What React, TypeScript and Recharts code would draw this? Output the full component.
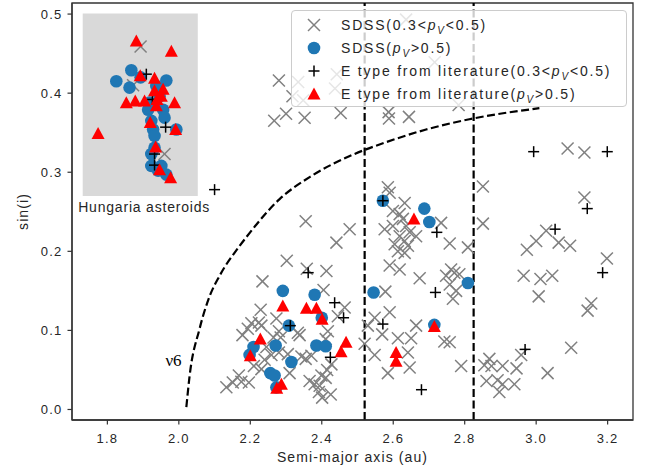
import React from "react";
import {
  ReferenceArea,
  ReferenceDot,
  ReferenceLine,
  Scatter,
  ScatterChart,
  XAxis,
  YAxis,
} from "recharts";

type Pt = [number, number];

const xTicks = [1.8, 2.0, 2.2, 2.4, 2.6, 2.8, 3.0, 3.2];
const yTicks = [0, 0.1, 0.2, 0.3, 0.4, 0.5];
const xDomain: [number, number] = [1.701, 3.271];
const yDomain: [number, number] = [-0.0133, 0.514];

// SDSS, 0.3 < pV < 0.5  (semi-major axis, sin i)
const sdssMid: Pt[] = [
  [1.893, 0.459], [1.872, 0.41], [1.96, 0.323],
  [2.28, 0.416], [2.334, 0.414], [2.442, 0.424], [2.318, 0.396], [2.348, 0.391],
  [2.437, 0.406], [2.3, 0.374], [2.267, 0.365], [2.352, 0.369], [2.453, 0.375],
  [2.587, 0.376], [2.588, 0.368], [2.644, 0.37], [2.716, 0.439], [2.783, 0.385],
  [2.636, 0.493], [2.355, 0.238], [2.478, 0.228],
  [2.441, 0.211], [2.302, 0.188], [2.358, 0.178], [2.413, 0.175], [2.234, 0.162],
  [2.405, 0.151], [2.229, 0.126], [2.224, 0.11], [2.203, 0.109], [2.178, 0.094],
  [2.193, 0.102], [2.231, 0.106], [2.273, 0.115], [2.28, 0.099], [2.265, 0.091],
  [2.333, 0.097], [2.338, 0.094], [2.285, 0.091], [2.417, 0.099], [2.411, 0.089],
  [2.445, 0.118], [2.464, 0.129], [2.245, 0.079], [2.259, 0.069], [2.24, 0.063],
  [2.21, 0.055], [2.28, 0.072], [2.305, 0.07], [2.343, 0.067], [2.355, 0.064],
  [2.371, 0.068], [2.31, 0.046], [2.415, 0.05], [2.427, 0.057], [2.399, 0.043],
  [2.411, 0.04], [2.366, 0.036], [2.38, 0.032], [2.394, 0.03], [2.392, 0.022],
  [2.401, 0.015], [2.425, 0.019], [2.231, 0.051], [2.168, 0.043], [2.175, 0.035],
  [2.151, 0.034], [2.133, 0.028], [2.196, 0.034], [2.52, 0.083], [2.529, 0.106],
  [2.548, 0.116], [2.569, 0.095], [2.548, 0.069], [2.585, 0.046],
  [2.585, 0.281], [2.59, 0.274], [2.632, 0.261], [2.599, 0.251], [2.618, 0.247],
  [2.627, 0.241], [2.576, 0.228], [2.599, 0.232], [2.636, 0.232], [2.646, 0.224],
  [2.664, 0.219], [2.618, 0.219], [2.604, 0.209], [2.632, 0.213], [2.641, 0.207],
  [2.613, 0.2], [2.632, 0.198], [2.734, 0.236], [2.758, 0.21], [2.809, 0.205],
  [2.59, 0.182], [2.618, 0.177], [2.674, 0.166], [2.762, 0.177], [2.771, 0.173],
  [2.748, 0.169], [2.785, 0.171], [2.758, 0.158], [2.776, 0.15], [2.767, 0.14],
  [2.578, 0.149], [2.59, 0.123], [2.664, 0.106], [2.613, 0.09], [2.65, 0.09],
  [2.743, 0.086], [2.758, 0.085], [2.641, 0.072], [2.646, 0.053], [2.79, 0.055],
  [2.851, 0.282], [2.851, 0.235], [2.855, 0.056], [2.869, 0.064], [2.875, 0.055],
  [2.906, 0.055], [2.945, 0.052], [2.861, 0.036], [2.892, 0.037], [2.906, 0.032],
  [2.897, 0.022], [2.939, 0.032], [3.088, 0.33], [3.135, 0.325], [3.135, 0.268],
  [3.028, 0.226], [3.0, 0.213], [2.974, 0.202], [3.063, 0.211], [3.095, 0.207],
  [3.198, 0.191], [2.965, 0.169], [3.012, 0.165], [3.045, 0.169], [3.007, 0.143],
  [3.154, 0.134], [3.144, 0.125], [3.098, 0.078], [2.958, 0.069], [3.032, 0.046],
];

// SDSS, pV > 0.5
const sdssHigh: Pt[] = [
  [1.867, 0.429], [1.825, 0.415], [1.862, 0.407], [1.965, 0.416], [1.918, 0.388],
  [1.914, 0.379], [1.956, 0.379], [1.96, 0.369], [1.923, 0.365], [1.928, 0.354],
  [1.932, 0.346], [1.993, 0.354], [1.923, 0.323], [1.932, 0.331], [1.923, 0.308],
  [1.951, 0.308], [1.942, 0.302], [1.965, 0.297], [1.946, 0.396], [1.937, 0.409],
  [1.893, 0.42],
  [2.291, 0.15], [2.38, 0.145], [2.308, 0.106], [2.4, 0.116], [2.209, 0.079],
  [2.198, 0.069], [2.271, 0.081], [2.385, 0.081], [2.411, 0.08], [2.315, 0.06],
  [2.256, 0.046], [2.268, 0.043], [2.273, 0.028], [2.545, 0.148], [2.571, 0.264],
  [2.687, 0.254], [2.701, 0.237], [2.809, 0.16], [2.715, 0.107],
];

// E type from literature, 0.3 < pV < 0.5
const eMid: Pt[] = [
  [1.909, 0.424], [1.926, 0.392], [1.963, 0.357], [1.932, 0.323], [1.932, 0.309],
  [2.1, 0.278], [2.362, 0.173], [2.436, 0.135], [2.461, 0.116], [2.312, 0.106],
  [2.424, 0.066], [2.571, 0.108], [2.571, 0.264], [2.722, 0.224], [2.718, 0.148],
  [2.679, 0.025], [2.993, 0.326], [3.199, 0.326], [3.143, 0.254], [3.053, 0.228],
  [3.186, 0.173], [2.969, 0.076],
];

// E type from literature, pV > 0.5
const eHigh: Pt[] = [
  [1.881, 0.466], [1.979, 0.453], [1.892, 0.422], [1.932, 0.419], [1.932, 0.403],
  [1.956, 0.405], [1.853, 0.388], [1.878, 0.39], [1.904, 0.39], [1.939, 0.392],
  [1.951, 0.396], [1.937, 0.384], [1.988, 0.388], [1.92, 0.363], [1.991, 0.354],
  [1.774, 0.349], [1.935, 0.332], [1.946, 0.303], [1.977, 0.293],
  [2.291, 0.131], [2.357, 0.128], [2.385, 0.128], [2.401, 0.114], [2.228, 0.089],
  [2.2, 0.068], [2.468, 0.085], [2.454, 0.073], [2.287, 0.032], [2.274, 0.027],
  [2.608, 0.072], [2.608, 0.061], [2.658, 0.241], [2.715, 0.105],
];

// nu6 secular resonance
const nu6: Pt[] = [
  [2.021, 0.003], [2.03, 0.042], [2.058, 0.102], [2.086, 0.143], [2.114, 0.169],
  [2.167, 0.205], [2.189, 0.218], [2.282, 0.266], [2.374, 0.296], [2.486, 0.322],
  [2.58, 0.338], [2.692, 0.354], [2.813, 0.367], [3.009, 0.381],
];

const kirkwood = [2.52, 2.825];
const hungariaBox = { x1: 1.731, x2: 2.053, y1: 0.27, y2: 0.5006 };

const toRows = (pts: Pt[]) => pts.map(([x, y]) => ({ x, y }));

const FONT = "'Liberation Sans', Arial, sans-serif";
const INK = "#262626";
const DASH = "8 3.5";

function Cross(props: any) {
  const { cx, cy } = props;
  const s = 6;
  return (
    <g stroke="#808080" strokeWidth={1.5}>
      <line x1={cx - s} y1={cy - s} x2={cx + s} y2={cy + s} />
      <line x1={cx - s} y1={cy + s} x2={cx + s} y2={cy - s} />
    </g>
  );
}

function Dot(props: any) {
  return <circle cx={props.cx} cy={props.cy} r={6.3} fill="#1f77b4" />;
}

function Plus(props: any) {
  const { cx, cy } = props;
  const s = 5.5;
  return (
    <g stroke="#000" strokeWidth={1.5}>
      <line x1={cx - s} y1={cy} x2={cx + s} y2={cy} />
      <line x1={cx} y1={cy - s} x2={cx} y2={cy + s} />
    </g>
  );
}

function Tri(props: any) {
  const { cx, cy } = props;
  return <polygon points={`${cx},${cy - 6.5} ${cx - 6.5},${cy + 5.5} ${cx + 6.5},${cy + 5.5}`} fill="#ff0000" />;
}

const pV = (
  <>
    <span style={{ fontStyle: "italic" }}>p</span>
    <span style={{ fontStyle: "italic", fontSize: 10, position: "relative", top: 4 }}>V</span>
  </>
);

const legendRows = [
  { marker: <Cross cx={10} cy={10} />, label: <>SDSS(0.3&lt;{pV}&lt;0.5)</> },
  { marker: <Dot cx={10} cy={10} />, label: <>SDSS({pV}&gt;0.5)</> },
  { marker: <Plus cx={10} cy={10} />, label: <>E type from literature(0.3&lt;{pV}&lt;0.5)</> },
  { marker: <Tri cx={10} cy={10} />, label: <>E type from literature({pV}&gt;0.5)</> },
];

function LegendBox() {
  return (
    <div
      style={{
        position: "absolute",
        left: 291,
        top: 10,
        width: 336,
        height: 97,
        boxSizing: "border-box",
        background: "rgba(255,255,255,0.8)",
        border: "1px solid #cccccc",
        borderRadius: 4,
        fontFamily: FONT,
        fontSize: 14,
        letterSpacing: 1.8,
        color: INK,
      }}
    >
      {legendRows.map((row, i) => (
        <div
          key={i}
          style={{ position: "absolute", left: 0, top: 4 + i * 23, height: 20, width: "100%" }}
        >
          <svg width={20} height={20} style={{ position: "absolute", left: 12, top: 0 }}>
            {row.marker}
          </svg>
          <div style={{ position: "absolute", left: 49, top: 1, whiteSpace: "nowrap", lineHeight: "18px" }}>
            {row.label}
          </div>
        </div>
      ))}
    </div>
  );
}

export default function App() {
  return (
    <div style={{ position: "absolute", left: 0, top: 0, width: 649, height: 472, background: "#fff" }}>
      <ScatterChart width={649} height={472} margin={{ top: 3, right: 16, bottom: 0, left: 12 }}>
        <ReferenceArea
          x1={hungariaBox.x1}
          x2={hungariaBox.x2}
          y1={hungariaBox.y1}
          y2={hungariaBox.y2}
          fill="#d9d9d9"
          fillOpacity={1}
          stroke="none"
        />
        <XAxis
          type="number"
          dataKey="x"
          domain={xDomain}
          ticks={xTicks}
          allowDataOverflow
          height={52}
          tickSize={4.5}
          tickMargin={9}
          tickFormatter={(v: number) => v.toFixed(1)}
          tick={{ fontSize: 13, fill: INK, fontFamily: FONT, letterSpacing: 1.2 }}
          axisLine={{ stroke: "#333", strokeWidth: 1.3 }}
          tickLine={{ stroke: "#333", strokeWidth: 1.2 }}
          label={{
            value: "Semi-major axis (au)",
            position: "insideBottom",
            offset: 10,
            fontSize: 14,
            fill: INK,
            fontFamily: FONT,
            letterSpacing: 1.1,
          }}
        />
        <YAxis
          type="number"
          dataKey="y"
          domain={yDomain}
          ticks={yTicks}
          allowDataOverflow
          width={60}
          tickSize={4.5}
          tickMargin={5}
          tickFormatter={(v: number) => v.toFixed(1)}
          tick={{ fontSize: 13, fill: INK, fontFamily: FONT, letterSpacing: 1.2 }}
          axisLine={{ stroke: "#333", strokeWidth: 1.3 }}
          tickLine={{ stroke: "#333", strokeWidth: 1.2 }}
          label={(p: any) => {
            const vb = p.viewBox || { x: 12, y: 3, width: 60, height: 417 };
            const x = vb.x + 16;
            const y = vb.y + vb.height / 2;
            return (
              <text
                x={x}
                y={y}
                transform={`rotate(-90 ${x} ${y})`}
                textAnchor="middle"
                fontSize={14}
                fill={INK}
                fontFamily={FONT}
                letterSpacing={1.1}
              >
                sin(i)
              </text>
            );
          }}
        />
        <ReferenceArea
          x1={xDomain[0]}
          x2={xDomain[1]}
          y1={yDomain[0]}
          y2={yDomain[1]}
          fill="none"
          stroke="#333"
          strokeWidth={1.3}
        />
        {kirkwood.map((k) => (
          <ReferenceLine key={k} x={k} stroke="#000" strokeWidth={2.2} strokeDasharray={DASH} />
        ))}
        <Scatter
          data={toRows(nu6)}
          line={{ stroke: "#000", strokeWidth: 2.2, strokeDasharray: DASH }}
          lineJointType="monotoneX"
          shape={() => <g />}
          isAnimationActive={false}
        />
        <Scatter data={toRows(sdssMid)} shape={Cross} isAnimationActive={false} />
        <Scatter data={toRows(sdssHigh)} shape={Dot} isAnimationActive={false} />
        <Scatter data={toRows(eMid)} shape={Plus} isAnimationActive={false} />
        <Scatter data={toRows(eHigh)} shape={Tri} isAnimationActive={false} />
        <ReferenceDot
          x={1.985}
          y={0.0625}
          r={0}
          fill="none"
          stroke="none"
          label={{
            value: "ν6",
            position: "center",
            fontSize: 17,
            fill: "#000",
            fontFamily: "'Liberation Serif', 'DejaVu Serif', serif",
          }}
        />
        <ReferenceDot
          x={1.903}
          y={0.2557}
          r={0}
          fill="none"
          stroke="none"
          label={{
            value: "Hungaria asteroids",
            position: "center",
            fontSize: 14,
            fill: INK,
            fontFamily: FONT,
            letterSpacing: 0.8,
          }}
        />
      </ScatterChart>
      <LegendBox />
    </div>
  );
}
